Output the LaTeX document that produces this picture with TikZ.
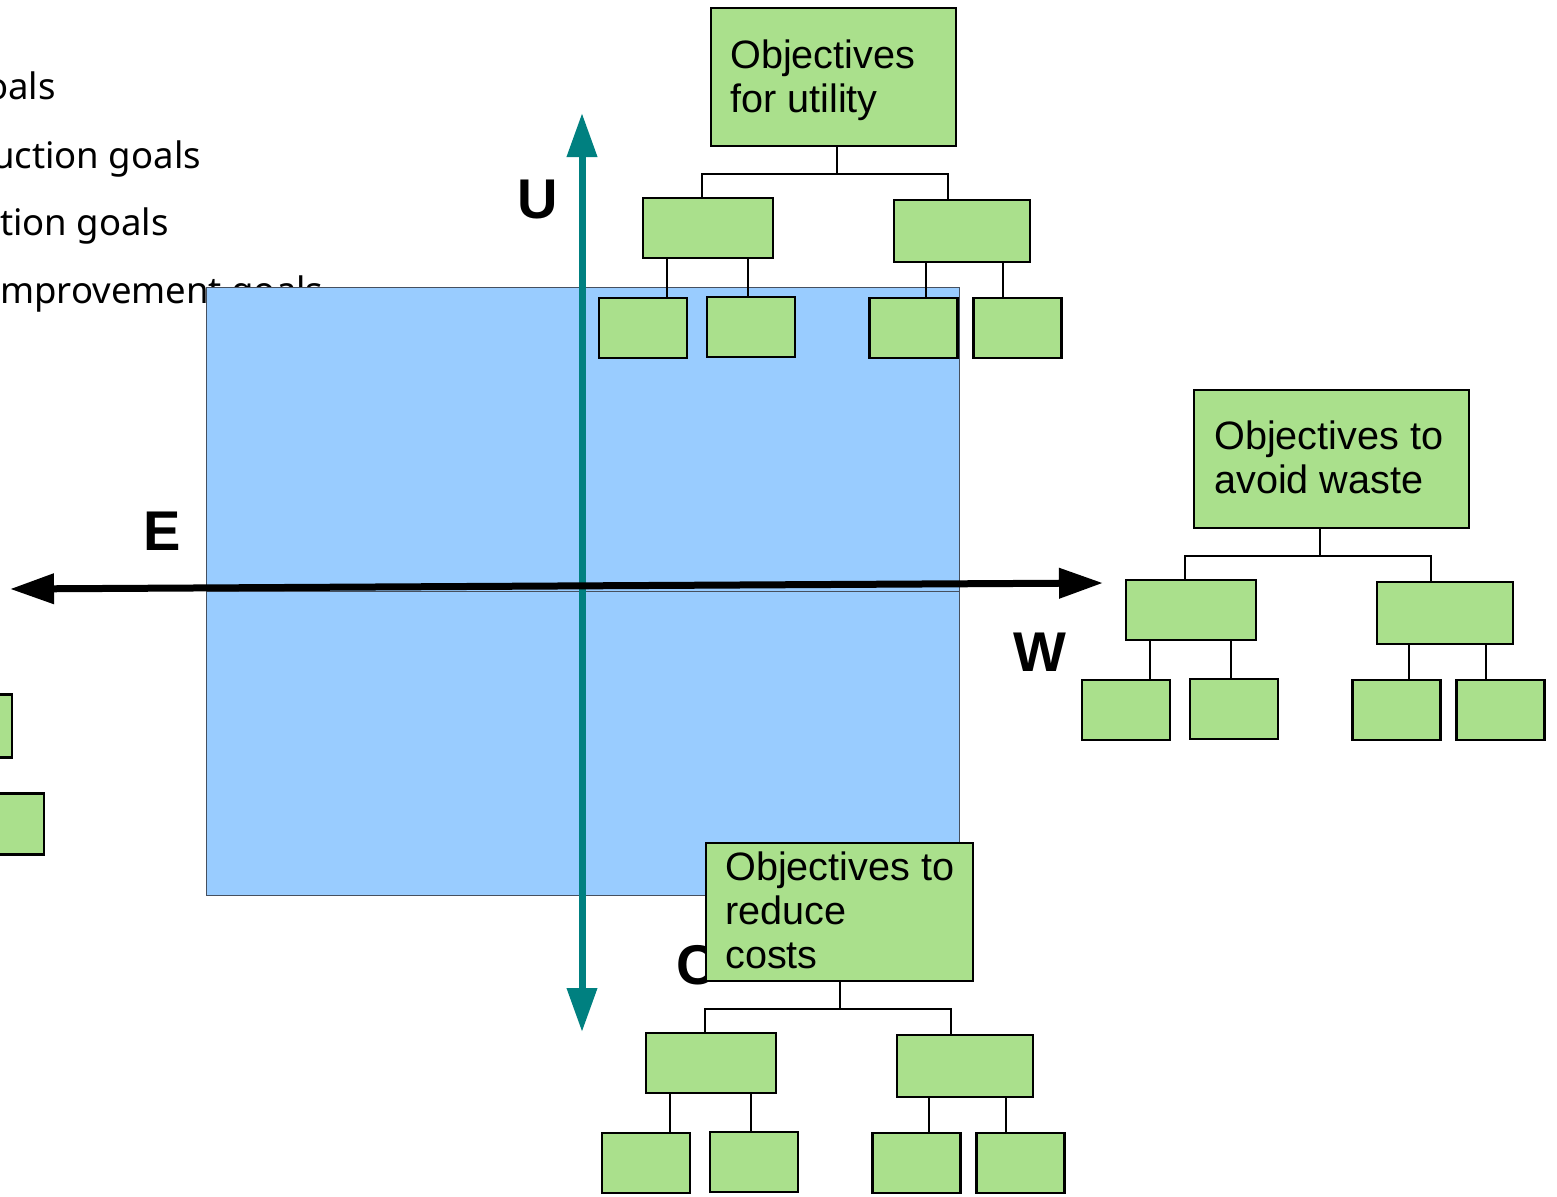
\documentclass[tikz,border=0pt]{standalone}
\usepackage{fontspec}
\setmainfont{Liberation Sans}
\newfontfamily\listfont{Noto Sans}
\usetikzlibrary{arrows.meta}
\definecolor{leafgreen}{RGB}{170,224,140}
\definecolor{planeblue}{RGB}{153,204,255}
\definecolor{planeedge}{RGB}{70,80,95}
\definecolor{axisteal}{RGB}{0,128,128}

% Goal hierarchy below a root box, drawn in the coordinates of the top tree
\newcommand\goaltree{%
  \coordinate (stem) at (837,146);
  \coordinate (bar) at (837,174);
  \node[kid]  (L)  at (708,228) {};
  \node[kidw] (R)  at (962,231) {};
  \node[leaf] (L1) at (643,328) {};
  \node[leaf] (L2) at (751,327) {};
  \node[leaf] (R1) at (913.5,328) {};
  \node[leaf] (R2) at (1017.5,328) {};
  \draw[link] (stem) -- (bar);
  \draw[link] ([xshift=-6pt]L.north) |- (bar) -| ([xshift=-14pt]R.north);
  \draw[link] ([xshift=-41pt]L.south) -- ([xshift=24pt]L1.north);
  \draw[link] ([xshift=40pt]L.south) -- ([xshift=-3pt]L2.north);
  \draw[link] ([xshift=-36pt]R.south) -- ([xshift=12.5pt]R1.north);
  \draw[link] ([xshift=41pt]R.south) -- ([xshift=-14.5pt]R2.north);
}

\begin{document}
\begin{tikzpicture}[x=1pt,y=-1pt,
  gbox/.style={draw=black, line width=2.5pt, fill=leafgreen, rectangle, inner sep=0pt},
  kid/.style={gbox, minimum width=130pt, minimum height=60pt},
  kidw/.style={gbox, minimum width=136pt, minimum height=62pt},
  leaf/.style={gbox, minimum width=88pt, minimum height=60pt},
  link/.style={draw=black, line width=2pt},
  roottext/.style={anchor=north west, inner sep=0pt, align=left,
    font=\fontsize{39.6}{44}\selectfont},
  listitem/.style={anchor=base west, inner sep=0pt, font=\listfont\fontsize{36.5}{40}\selectfont},
  axislabel/.style={inner sep=0pt, font=\bfseries\fontsize{56}{60}\selectfont},
  plane/.style={fill=planeblue, draw=planeedge, line width=1pt},
]
\useasboundingbox (0,0) rectangle (1557,1196);
\clip (0,0) rectangle (1557,1196);

% list of goal types
\node[listitem] (g1) at (-14,100) {oals};
\node[listitem] (g2) at (-8,168) {uction goals};
\node[listitem] (g3) at (0,235) {tion goals};
\node[listitem] (g4) at (0,303) {mprovement goals};

% blue plane, upper and lower halves
\node[plane, rectangle, inner sep=0pt, minimum width=753pt, minimum height=304pt] (upper) at (582.5,439) {};
\node[plane, rectangle, inner sep=0pt, minimum width=753pt, minimum height=304pt] (lower) at (582.5,743) {};

% boxes of the tree at the left edge
\node[gbox, minimum width=132pt, minimum height=63pt] (e1) at (-54,726) {};
\node[gbox, minimum width=88pt, minimum height=61pt] (e2) at (0,824) {};

% utility tree
\node[gbox, minimum width=245pt, minimum height=138pt] (U0) at (833.5,77) {};
\node[roottext] (U0t) at (730,37.2) {\strut Objectives\\for utility};
\begin{scope}[name prefix=U-]
  \goaltree
\end{scope}

% waste tree
\node[gbox, minimum width=275pt, minimum height=138pt] (W0) at (1331.5,459) {};
\node[roottext] (W0t) at (1214,418.7) {\strut Objectives to\\avoid waste};
\begin{scope}[shift={(483,382)}, name prefix=W-]
  \goaltree
\end{scope}

% axes
\coordinate (Utip) at (582,113);
\coordinate (Ctip) at (582,1032);
\draw[axisteal, line width=7pt, {Triangle[length=44pt,width=29pt]}-{Triangle[length=44pt,width=29pt]}] (Ctip) -- (Utip);
\coordinate (Etip) at (10,589);
\coordinate (Wtip) at (1103,583);
\draw[black, line width=7pt, {Triangle[length=44pt,width=29pt]}-{Triangle[length=44pt,width=29pt]}] (Etip) -- (Wtip);

\node[axislabel] (lU) at (538,200) {U};
\node[axislabel] (lE) at (162.5,531) {E};
\node[axislabel] (lW) at (1039.5,652) {W};
\node[axislabel] (lC) at (697,965) {C};

% cost tree
\node[gbox, minimum width=267pt, minimum height=138pt] (C0) at (839.5,912) {};
\node[roottext] (C0t) at (725,849.2) {\strut Objectives to\\reduce\\costs};
\begin{scope}[shift={(3,835)}, name prefix=C-]
  \goaltree
\end{scope}
\end{tikzpicture}
\end{document}
